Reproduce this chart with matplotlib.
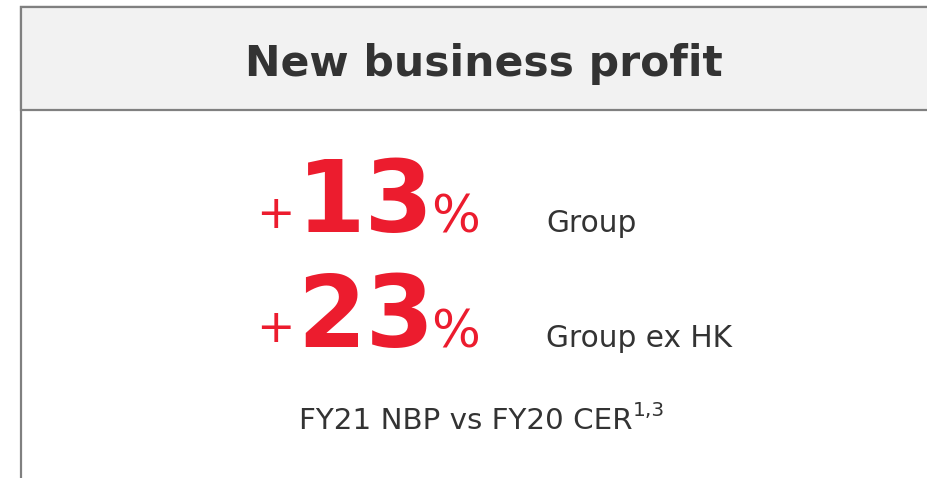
import matplotlib
matplotlib.use("Agg")
import matplotlib.pyplot as plt
from matplotlib.patches import Rectangle

# ---- data ----
title = "New business profit"
values = [13, 23]
labels = ["Group", "Group ex HK"]
subtitle = "FY21 NBP vs FY20 CER"
footnote = "1,3"

RED = "#EC1C2E"
DARK = "#333333"
GREY = "#808080"

W, H = 928, 478
fig = plt.figure(figsize=(W / 100, H / 100), dpi=100)
ax = fig.add_axes([0, 0, 1, 1])
ax.set_xlim(0, W)
ax.set_ylim(H, 0)
ax.axis("off")

# box + header
ax.add_patch(Rectangle((21, 7), 1000, 600, facecolor="white", edgecolor=GREY, lw=1.6))
ax.add_patch(Rectangle((21, 7), 1000, 102.5, facecolor="#F2F2F2", edgecolor=GREY, lw=1.6))

ax.text(484, 76, title, ha="center", va="baseline", fontsize=30.6,
        fontweight="bold", color=DARK, family="DejaVu Sans")

baselines = [232, 347]
for v, lab, yb in zip(values, labels, baselines):
    ax.text(256, yb - 17, "+", ha="left", va="center", fontsize=33, color=RED)
    ax.text(297, yb, f"{v}", ha="left", va="baseline", fontsize=71,
            fontweight="bold", color=RED)
    ax.text(431, yb, "%", ha="left", va="baseline", fontsize=37, color=RED)
    ax.text(546, yb, lab, ha="left", va="baseline", fontsize=21.3, color=DARK)

ax.text(299, 429, subtitle, ha="left", va="baseline", fontsize=21.2, color=DARK)
ax.text(633, 416, footnote, ha="left", va="baseline", fontsize=14.5, color=DARK)

fig.savefig("out.png", dpi=100)
